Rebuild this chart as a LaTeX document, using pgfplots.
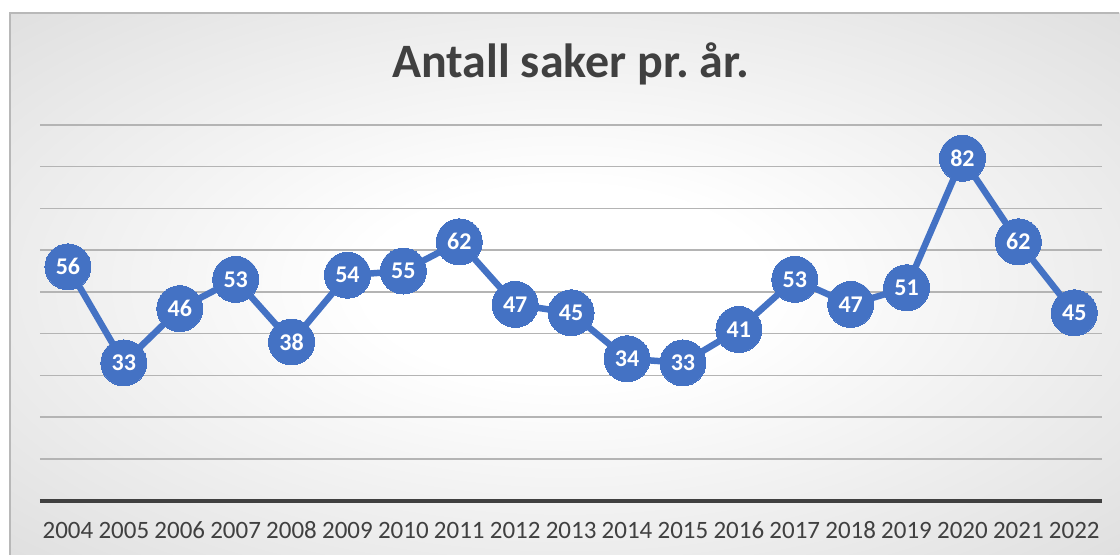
\documentclass[border=0pt]{standalone}
\usepackage{pgfplots}
\pgfplotsset{compat=1.18}
\usepackage{fontspec}
\setmainfont{Carlito}
\definecolor{cblue}{HTML}{4472C4}
\definecolor{ctext}{HTML}{404040}
\definecolor{cgrid}{HTML}{B4B4B4}
\pgfdeclareradialshading{bgshade}{\pgfpoint{0bp}{0bp}}{color(0bp)=(white); color(9bp)=(white); color(50bp)=(black!19); color(72bp)=(black!26)}
\begin{document}
\frenchspacing
\begin{tikzpicture}[x=1pt,y=1pt]
\fill[white] (0,0) rectangle (1120,555);
\shade[shading=bgshade] (10,0) rectangle (1120,542);
\draw[black!28, line width=1.5pt] (10,0) -- (10,542) -- (1120,542);
\node[anchor=base, font=\bfseries\fontsize{48}{48}\selectfont, text=ctext] at (571,477) {Antall saker pr.\ år.};
\begin{axis}[
  at={(40pt,54pt)}, anchor=south west,
  scale only axis, width=1063pt, height=376pt,
  xmin=-0.5, xmax=18.5, ymin=0, ymax=90,
  clip=false,
  axis line style={draw=none},
  xtick={0,...,18},
  xticklabels={2004,2005,2006,2007,2008,2009,2010,2011,2012,2013,2014,2015,2016,2017,2018,2019,2020,2021,2022},
  ytick={10,20,...,90}, yticklabels={},
  major tick length=0pt,
  ymajorgrids, grid style={cgrid, line width=1.5pt},
  xticklabel style={anchor=base, yshift=-38pt, font=\fontsize{25}{25}\selectfont, text=ctext},
  /pgf/number format/assume math mode=true,
]
\draw[ctext, line width=4pt] (axis cs:-0.5,0) -- (axis cs:18.5,0);
\addplot[cblue, line width=6.5pt, mark=*, mark size=23pt, mark options={fill=cblue, draw=cblue, line width=0pt},
  nodes near coords,
  every node near coord/.append style={anchor=center, text=white, font=\bfseries\fontsize{24}{24}\selectfont}]
coordinates {
(0,56) (1,33) (2,46) (3,53) (4,38) (5,54) (6,55) (7,62) (8,47) (9,45)
(10,34) (11,33) (12,41) (13,53) (14,47) (15,51) (16,82) (17,62) (18,45)
};
\end{axis}
\end{tikzpicture}
\end{document}
